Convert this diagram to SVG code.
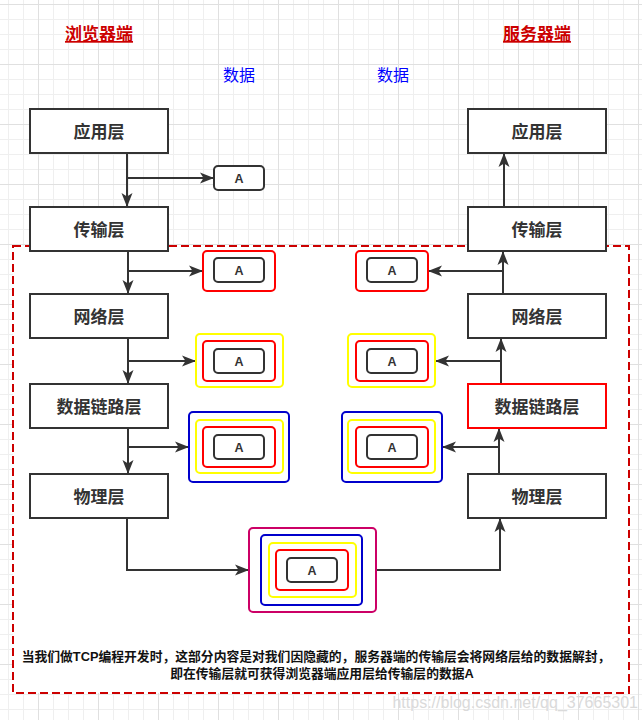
<svg xmlns="http://www.w3.org/2000/svg" width="642" height="720" viewBox="0 0 642 720">
  <defs>
    <pattern id="grid" patternUnits="userSpaceOnUse" x="38" y="4" width="60" height="60">
      <rect x="15" y="0" width="1" height="60" fill="#efefef"/>
      <rect x="30" y="0" width="1" height="60" fill="#efefef"/>
      <rect x="45" y="0" width="1" height="60" fill="#efefef"/>
      <rect x="0" y="15" width="60" height="1" fill="#efefef"/>
      <rect x="0" y="30" width="60" height="1" fill="#efefef"/>
      <rect x="0" y="45" width="60" height="1" fill="#efefef"/>
      <rect x="0" y="0" width="1" height="60" fill="#e0e0e0"/>
      <rect x="0" y="0" width="60" height="1" fill="#e0e0e0"/>
    </pattern>
    <marker id="arr" markerUnits="userSpaceOnUse" markerWidth="15" markerHeight="12" refX="14" refY="5.5" orient="auto" viewBox="0 0 15 11">
      <path d="M0,0 L14,5.5 L0,11 L3.5,5.5 z" fill="#333333"/>
    </marker>
    <style>
      .layer { fill: #ffffff; stroke: #333333; stroke-width: 2; }
      .lbl { font-family: "Liberation Sans", "Noto Sans CJK SC", sans-serif; font-weight: bold; font-size: 17px; fill: #333333; text-anchor: middle; }
      .abox { fill: #ffffff; stroke: #333333; stroke-width: 2; }
      .alb { font-family: "Liberation Sans", "Noto Sans CJK SC", sans-serif; font-weight: bold; font-size: 12.5px; fill: #333333; text-anchor: middle; }
      .red { fill: #ffffff; stroke: #ff0000; stroke-width: 2; }
      .yel { fill: #ffffff; stroke: #ffff00; stroke-width: 2; }
      .blu { fill: #ffffff; stroke: #0000cc; stroke-width: 2; }
      .mag { fill: #ffffff; stroke: #cc0066; stroke-width: 2; }
      .edge { fill: none; stroke: #333333; stroke-width: 2; }
      .title { font-family: "Liberation Sans", "Noto Sans CJK SC", sans-serif; font-weight: bold; font-size: 17px; fill: #cc0000; text-anchor: middle; text-decoration: underline; }
      .data { font-family: "Liberation Sans", "Noto Sans CJK SC", sans-serif; font-size: 16px; fill: #0000ff; text-anchor: middle; }
      .note { font-family: "Liberation Sans", "Noto Sans CJK SC", sans-serif; font-weight: bold; font-size: 12.8px; fill: #111111; text-anchor: middle; }
    </style>
  </defs>

  <rect x="0" y="0" width="642" height="720" fill="#ffffff"/>
  <rect x="0" y="0" width="642" height="720" fill="url(#grid)"/>

  <g id="region">
    <rect x="13" y="246" width="616" height="447" fill="#ffffff" stroke="#cc0000" stroke-width="2" stroke-dasharray="8 4"/>
  </g>

  <g id="titles">
    <text class="title" x="99" y="40">浏览器端</text>
    <text class="title" x="537" y="40">服务器端</text>
    <text class="data" x="239" y="81">数据</text>
    <text class="data" x="393" y="81">数据</text>
  </g>

  <g id="connectors">
    <path class="edge" d="M127,153 V207" marker-end="url(#arr)"/>
    <path class="edge" d="M127,178 H214" marker-end="url(#arr)"/>
    <path class="edge" d="M128,251 V294" marker-end="url(#arr)"/>
    <path class="edge" d="M128,271 H203" marker-end="url(#arr)"/>
    <path class="edge" d="M128,338 V384" marker-end="url(#arr)"/>
    <path class="edge" d="M128,361 H196" marker-end="url(#arr)"/>
    <path class="edge" d="M128,428 V474" marker-end="url(#arr)"/>
    <path class="edge" d="M128,447 H189" marker-end="url(#arr)"/>
    <path class="edge" d="M127,518 V570 H249" marker-end="url(#arr)"/>
    <path class="edge" d="M376,570 H500 V518" marker-end="url(#arr)"/>
    <path class="edge" d="M499,474 V428" marker-end="url(#arr)"/>
    <path class="edge" d="M499,447 H442" marker-end="url(#arr)"/>
    <path class="edge" d="M501,384 V338" marker-end="url(#arr)"/>
    <path class="edge" d="M501,361 H435" marker-end="url(#arr)"/>
    <path class="edge" d="M503,294 V251" marker-end="url(#arr)"/>
    <path class="edge" d="M503,271 H428" marker-end="url(#arr)"/>
    <path class="edge" d="M504,207 V153" marker-end="url(#arr)"/>
  </g>

  <g id="left-app"><rect class="layer" x="30" y="109" width="138" height="44"/><text class="lbl" x="99" y="138">应用层</text></g>
  <g id="left-transport"><rect class="layer" x="30" y="207" width="138" height="44"/><text class="lbl" x="99" y="236">传输层</text></g>
  <g id="left-network"><rect class="layer" x="30" y="294" width="138" height="44"/><text class="lbl" x="99" y="323">网络层</text></g>
  <g id="left-link"><rect class="layer" x="30" y="384" width="138" height="44"/><text class="lbl" x="99" y="413">数据链路层</text></g>
  <g id="left-phys"><rect class="layer" x="30" y="474" width="138" height="44"/><text class="lbl" x="99" y="503">物理层</text></g>

  <g id="right-app"><rect class="layer" x="468" y="109" width="138" height="44"/><text class="lbl" x="537" y="138">应用层</text></g>
  <g id="right-transport"><rect class="layer" x="468" y="207" width="138" height="44"/><text class="lbl" x="537" y="236">传输层</text></g>
  <g id="right-network"><rect class="layer" x="468" y="294" width="138" height="44"/><text class="lbl" x="537" y="323">网络层</text></g>
  <g id="right-link"><rect class="layer" x="468" y="384" width="138" height="44" style="stroke:#ff0000"/><text class="lbl" x="537" y="413">数据链路层</text></g>
  <g id="right-phys"><rect class="layer" x="468" y="474" width="138" height="44"/><text class="lbl" x="537" y="503">物理层</text></g>

  <g id="data-app">
    <rect class="abox" x="214" y="166" width="50" height="24" rx="4"/><text class="alb" x="239" y="183">A</text>
  </g>
  <g id="data-l-transport">
    <rect class="red" x="203" y="251" width="72" height="40" rx="4"/>
    <rect class="abox" x="214" y="258" width="50" height="24" rx="4"/><text class="alb" x="239" y="275">A</text>
  </g>
  <g id="data-l-network">
    <rect class="yel" x="196" y="334" width="87" height="53" rx="4"/>
    <rect class="red" x="203" y="341" width="72" height="40" rx="4"/>
    <rect class="abox" x="214" y="349" width="50" height="24" rx="4"/><text class="alb" x="239" y="366">A</text>
  </g>
  <g id="data-l-link">
    <rect class="blu" x="189" y="412" width="100" height="70" rx="4"/>
    <rect class="yel" x="196" y="420" width="87" height="53" rx="4"/>
    <rect class="red" x="203" y="427" width="72" height="40" rx="4"/>
    <rect class="abox" x="214" y="435" width="50" height="24" rx="4"/><text class="alb" x="239" y="452">A</text>
  </g>
  <g id="data-phys">
    <rect class="mag" x="249" y="528" width="127" height="84" rx="4"/>
    <rect class="blu" x="261" y="535" width="101" height="70" rx="4"/>
    <rect class="yel" x="269" y="543" width="87" height="54" rx="4"/>
    <rect class="red" x="276" y="550" width="72" height="40" rx="4"/>
    <rect class="abox" x="287" y="558" width="50" height="24" rx="4"/><text class="alb" x="312" y="575">A</text>
  </g>
  <g id="data-r-transport">
    <rect class="red" x="356" y="251" width="72" height="40" rx="4"/>
    <rect class="abox" x="367" y="258" width="50" height="24" rx="4"/><text class="alb" x="392" y="275">A</text>
  </g>
  <g id="data-r-network">
    <rect class="yel" x="348" y="334" width="87" height="53" rx="4"/>
    <rect class="red" x="356" y="341" width="72" height="40" rx="4"/>
    <rect class="abox" x="367" y="349" width="50" height="24" rx="4"/><text class="alb" x="392" y="366">A</text>
  </g>
  <g id="data-r-link">
    <rect class="blu" x="342" y="412" width="100" height="70" rx="4"/>
    <rect class="yel" x="348" y="420" width="87" height="53" rx="4"/>
    <rect class="red" x="356" y="427" width="72" height="40" rx="4"/>
    <rect class="abox" x="367" y="435" width="50" height="24" rx="4"/><text class="alb" x="392" y="452">A</text>
  </g>

  <g id="note">
    <text class="note" x="316" y="661">当我们做TCP编程开发时，这部分内容是对我们因隐藏的，服务器端的传输层会将网络层给的数据解封，</text>
    <text class="note" x="322" y="678">即在传输层就可获得浏览器端应用层给传输层的数据A</text>
  </g>

  <g id="watermark">
    <text x="638" y="708" text-anchor="end" font-family="Liberation Sans, Arial, sans-serif" font-size="16" fill="#dadada">https://blog.csdn.net/qq_37665301</text>
  </g>
</svg>
